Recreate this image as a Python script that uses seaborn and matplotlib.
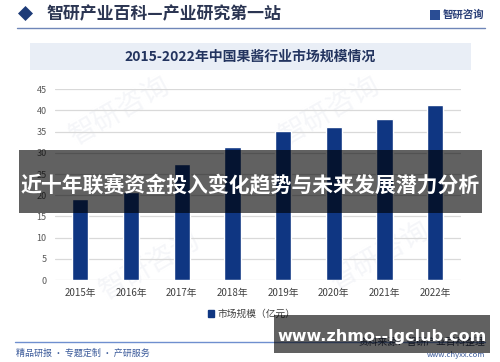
import matplotlib
matplotlib.use("Agg")
import matplotlib.pyplot as plt
import matplotlib.patches as mpatches
from matplotlib.lines import Line2D
import seaborn as sns
import pandas as pd

# ---- data ----
years = ["2015年", "2016年", "2017年", "2018年", "2019年", "2020年", "2021年", "2022年"]
market_size = [19.0, 20.8, 27.3, 31.4, 35.1, 36.2, 38.1, 41.3]
series_name = "市场规模（亿元）"
y_ticks = [0, 5, 10, 15, 20, 25, 30, 35, 40, 45]

header_title = "智研产业百科—产业研究第一站"
brand = "智研咨询"
chart_title = "2015-2022年中国果酱行业市场规模情况"
footer_left = "精品研报 · 专题定制 · 产研服务"
footer_source = "资料来源：智研产业百科整理"
footer_url = "www.chyxx.com"
banner_text = "近十年联赛资金投入变化趋势与未来发展潜力分析"
site_text = "www.zhmo--lgclub.com"

sns.set_style("white")
plt.rcParams["font.family"] = ["Noto Sans CJK SC", "DejaVu Sans"]

W, H = 500, 362
fig = plt.figure(figsize=(W / 100, H / 100), dpi=100)
fig.patch.set_facecolor("white")


def fx(x):
    return x / W


def fy(y):
    return 1 - y / H


BAR = "#0f3682"

# very faint watermarks
for (wx, wy) in [(120, 110), (330, 110), (150, 265), (380, 255)]:
    fig.text(fx(wx), fy(wy), brand, fontsize=20, color="#f5f6f9", rotation=30,
             ha="center", va="center", zorder=-1)

# header
fig.patches.append(mpatches.Polygon(
    [(fx(18), fy(13.5)), (fx(25.5), fy(6)), (fx(33), fy(13.5)), (fx(25.5), fy(21))],
    closed=True, transform=fig.transFigure, facecolor="#1d3b78", edgecolor="none"))
fig.text(fx(46), fy(14), header_title, fontsize=12.2, fontweight="bold",
         color="#2b3552", ha="left", va="center")
fig.patches.append(mpatches.Rectangle((fx(430), fy(20)), fx(10), 10 / H,
                                      transform=fig.transFigure,
                                      facecolor="#2a4d94", edgecolor="none"))
fig.text(fx(443), fy(15), brand, fontsize=7.5, color="#2a3f78",
         ha="left", va="center", fontweight="bold")
fig.add_artist(Line2D([fx(17), fx(485)], [fy(27.7), fy(27.7)],
                      transform=fig.transFigure, color="#6f86b8", lw=1))

# chart title box
fig.patches.append(mpatches.Rectangle((fx(30), fy(70)), fx(441), 27 / H,
                                      transform=fig.transFigure,
                                      facecolor="#e9eef6", edgecolor="none"))
fig.text(fx(250), fy(57), chart_title, fontsize=10, fontweight="bold",
         color="#23345f", ha="center", va="center")

# axes
ax = fig.add_axes([fx(55), fy(280), fx(405.6), (280 - 89.3) / H])
ax.set_facecolor("none")
df = pd.DataFrame({"year": years, "value": market_size})
sns.barplot(data=df, x="year", y="value", color=BAR, width=0.32,
            saturation=1, ax=ax, zorder=3)
ax.set_xlim(-0.5, len(years) - 0.5)
ax.set_ylim(0, 45)
ax.set_yticks(y_ticks)
ax.yaxis.grid(True, color="#d9d9d9", lw=0.9, zorder=0)
ax.set_axisbelow(True)
for s in ax.spines.values():
    s.set_visible(False)
ax.set_xlabel("")
ax.set_ylabel("")
ax.tick_params(axis="y", labelsize=6.5, labelcolor="#595959", length=0, pad=6)
ax.tick_params(axis="x", labelsize=7, labelcolor="#404040", length=0, pad=6)
fig.legend(handles=[mpatches.Patch(color=BAR, label=series_name)],
           loc="center left", bbox_to_anchor=(fx(199), fy(314)),
           frameon=False, fontsize=7, handlelength=0.6, handleheight=0.6,
           handletextpad=0.4, labelcolor="#404040")

# footer
fig.add_artist(Line2D([fx(15), fx(485)], [fy(341.7), fy(341.7)],
                      transform=fig.transFigure, color="#6f8fcf", lw=1))
fig.text(fx(16), fy(353), footer_left, fontsize=6.5, color="#3b5a9a",
         ha="left", va="center")
fig.text(fx(485), fy(342), footer_source, fontsize=7, color="#2b3552",
         ha="right", va="center")
fig.text(fx(485), fy(355), footer_url, fontsize=5.5, color="#3b5a9a",
         ha="right", va="center")

# overlay banner
fig.patches.append(mpatches.Rectangle((fx(19), fy(213)), fx(463), 63 / H,
                                      transform=fig.transFigure,
                                      facecolor="black", alpha=0.62,
                                      edgecolor="none", zorder=10))
fig.text(fx(250), fy(186), banner_text, fontsize=15, fontweight="bold",
         color="white", ha="center", va="center", zorder=11)

# site banner bottom right
fig.patches.append(mpatches.Rectangle((fx(274), fy(353)), fx(216), 38 / H,
                                      transform=fig.transFigure,
                                      facecolor="black", alpha=0.62,
                                      edgecolor="none", zorder=10))
fig.text(fx(382), fy(336.5), site_text, fontsize=11.5, fontweight="bold",
         color="white", ha="center", va="center", zorder=11,
         family=["DejaVu Sans"])

fig.savefig("out.png", dpi=100)
